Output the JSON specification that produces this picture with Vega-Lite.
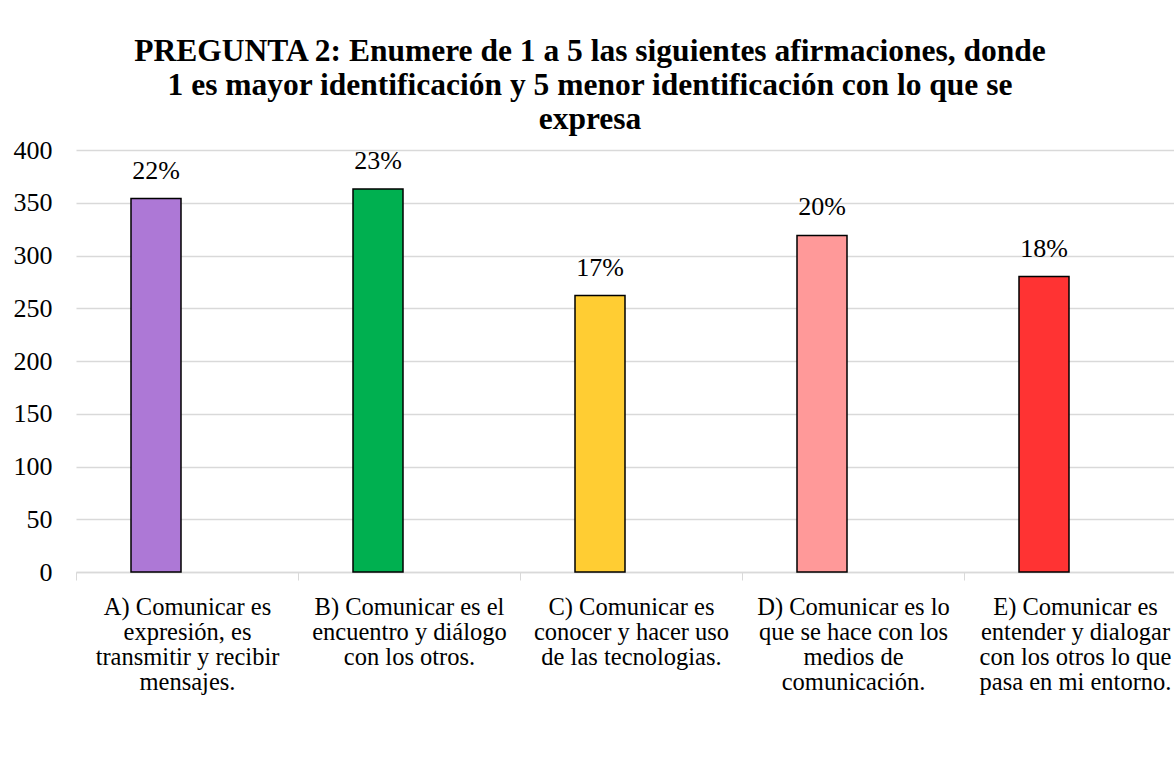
{
  "$schema": "https://vega.github.io/schema/vega-lite/v6.json",
  "width": 1098,
  "height": 422,
  "autosize": {"type": "none"},
  "padding": {"left": 76, "top": 150, "right": 0, "bottom": 185},
  "background": "white",
  "title": {
    "text": ["PREGUNTA 2: Enumere de 1 a 5 las siguientes afirmaciones, donde", "1 es mayor identificación y 5 menor identificación con lo que se", "expresa"],
    "font": "Liberation Serif",
    "fontSize": 31.5,
    "fontWeight": "bold",
    "color": "#000000",
    "lineHeight": 34,
    "anchor": "middle",
    "frame": "group",
    "dx": -35,
    "offset": 2
  },
  "data": {
    "values": [
      {"afirmacion": "A) Comunicar es|expresión, es|transmitir y recibir|mensajes.", "total": 354, "pct": "22%"},
      {"afirmacion": "B) Comunicar es el|encuentro y diálogo|con los otros.", "total": 363, "pct": "23%"},
      {"afirmacion": "C) Comunicar es|conocer y hacer uso|de las tecnologias.", "total": 262, "pct": "17%"},
      {"afirmacion": "D) Comunicar es lo|que se hace con los|medios de|comunicación.", "total": 319, "pct": "20%"},
      {"afirmacion": "E) Comunicar es|entender y dialogar|con los otros lo que|pasa en mi entorno.", "total": 280, "pct": "18%"}
    ]
  },
  "encoding": {
    "x": {
      "field": "afirmacion",
      "type": "nominal",
      "sort": null,
      "title": null,
      "scale": {"range": [0, 1110], "paddingInner": 0, "paddingOuter": 0},
      "axis": {
        "labelExpr": "split(datum.label, '|')",
        "labelAngle": 0,
        "labelFont": "Liberation Serif",
        "labelFontSize": 24.5,
        "labelColor": "#000000",
        "labelLineHeight": 25,
        "labelPadding": 15,
        "labelLimit": 0,
        "labelBaseline": "top",
        "tickBand": "extent",
        "tickSize": 8,
        "tickColor": "#d9d9d9",
        "domainColor": "#d9d9d9",
        "domainWidth": 1.5,
        "grid": false,
        "labelOverlap": false
      }
    },
    "y": {
      "field": "total",
      "type": "quantitative",
      "title": null,
      "scale": {"domain": [0, 400]},
      "axis": {
        "values": [0, 50, 100, 150, 200, 250, 300, 350, 400],
        "labelFont": "Liberation Serif",
        "labelFontSize": 26,
        "labelColor": "#000000",
        "labelPadding": 24,
        "ticks": false,
        "domain": false,
        "gridColor": "#d9d9d9",
        "gridWidth": 1.5
      }
    }
  },
  "layer": [
    {
      "mark": {"type": "bar", "width": 50, "xOffset": -31, "stroke": "#000000", "strokeWidth": 1.5},
      "encoding": {
        "color": {
          "field": "afirmacion",
          "type": "nominal",
          "sort": null,
          "scale": {"range": ["#ad78d6", "#00b050", "#ffcd33", "#ff9999", "#ff3333"]},
          "legend": null
        }
      }
    },
    {
      "mark": {"type": "text", "font": "Liberation Serif", "fontSize": 26, "color": "#000000", "baseline": "middle", "xOffset": -31, "dy": -28},
      "encoding": {"text": {"field": "pct", "type": "nominal"}}
    }
  ],
  "config": {"view": {"stroke": null}}
}
